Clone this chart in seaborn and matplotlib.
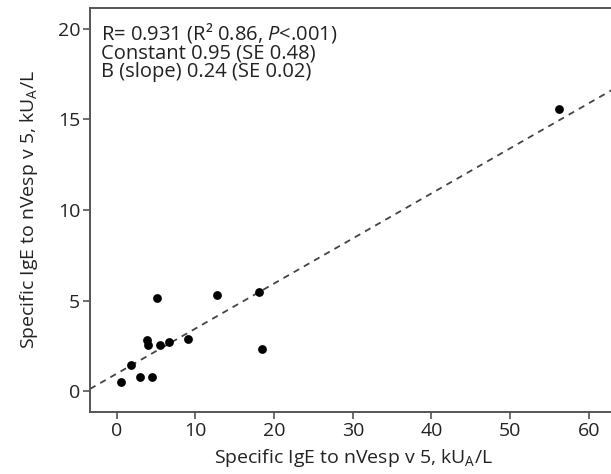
import matplotlib
matplotlib.use("Agg")
import matplotlib.pyplot as plt
import seaborn as sns
import pandas as pd
from matplotlib import font_manager

# ---- data ----
x_vals = [0.55, 1.78, 2.93, 4.54, 3.82, 4.03, 5.17, 5.52, 6.66, 9.12, 12.74, 18.04, 18.51, 56.18]
y_vals = [0.51, 1.44, 0.76, 0.76, 2.82, 2.54, 5.12, 2.54, 2.71, 2.89, 5.30, 5.49, 2.32, 15.56]
x_ticks = [0, 10, 20, 30, 40, 50, 60]
y_ticks = [0, 5, 10, 15, 20]
x_label = r"Specific IgE to nVesp v 5, kU$_{\mathregular{A}}$/L"
y_label = r"Specific IgE to nVesp v 5, kU$_{\mathregular{A}}$/L"
stats_lines = [
    r"R= 0.931 (R² 0.86, $\mathit{P}$<.001)",
    "Constant 0.95 (SE 0.48)",
    "B (slope) 0.24 (SE 0.02)",
]

df = pd.DataFrame({"x": x_vals, "y": y_vals})

sns.set_theme(style="white")
names = {f.name for f in font_manager.fontManager.ttflist}
fam = None
for cand in ["Liberation Sans Narrow", "DejaVu Sans Condensed", "Open Sans"]:
    if cand in names:
        fam = cand
        break
plt.rcParams["font.family"] = [fam, "DejaVu Sans"]
plt.rcParams["mathtext.fontset"] = "custom"
plt.rcParams["mathtext.rm"] = fam
plt.rcParams["mathtext.it"] = fam + ":italic"

fig = plt.figure(figsize=(6.11, 4.74), dpi=100)
ax = fig.add_axes([90 / 611, 1 - 412 / 474, 1 - 90 / 611 + 0.01, (412 - 8) / 474])

ax.set_xlim(-3.4, 63.6)
ax.set_ylim(-1.15, 21.15)

sns.regplot(data=df, x="x", y="y", ax=ax, scatter=False, ci=None, truncate=False,
            line_kws=dict(color="#444444", lw=1.3, ls=(0, (3.5, 3.0))))
sns.scatterplot(data=df, x="x", y="y", ax=ax, color="black", s=40, edgecolor="black",
                linewidth=0, zorder=3)

ax.set_xlim(-3.4, 63.6)
ax.set_ylim(-1.15, 21.15)
ax.set_xticks(x_ticks)
ax.set_yticks(y_ticks)
ax.tick_params(axis="both", direction="out", length=5, width=1.2, color="#555555",
               labelsize=14, labelcolor="#222222", pad=2)
ax.tick_params(axis="x", bottom=True)
ax.tick_params(axis="y", left=True)
for side in ["left", "bottom", "top"]:
    ax.spines[side].set_color("#555555")
    ax.spines[side].set_linewidth(1.4)
    ax.spines[side].set_visible(True)
ax.spines["right"].set_visible(False)

ax.set_xlabel(x_label, fontsize=14, color="#222222", labelpad=5)
ax.set_ylabel(y_label, fontsize=14, color="#222222", labelpad=13)

for i, line in enumerate(stats_lines):
    ax.text(101 / 611, 1 - (39.5 + 19 * i) / 474, line, transform=fig.transFigure,
            fontsize=14.5, color="#222222", va="baseline", ha="left")

fig.savefig("out.png", dpi=100)
